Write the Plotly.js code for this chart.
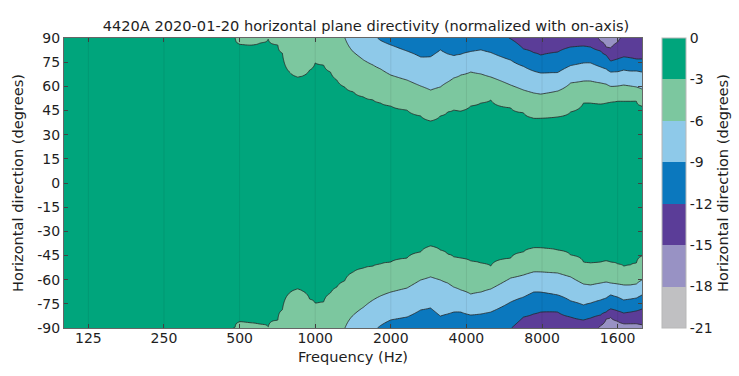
<!DOCTYPE html>
<html><head><meta charset="utf-8">
<script src="https://cdn.plot.ly/plotly-3.0.1.min.js"></script>
<style>html,body{margin:0;padding:0;background:#fff}#chart{width:739px;height:376px}</style>
</head><body><div id="chart"></div>
<script>
// Frequency nodes (Hz) at which the contour boundaries were read
const freqHz = [100, 350, 450, 480, 500, 550, 600, 650, 710, 740, 790, 850, 890, 950, 1000, 1080, 1150, 1220, 1310, 1420, 1560, 1700, 1820, 2000, 2320, 2630, 2880, 3150, 3370, 3560, 3800, 4160, 4570, 5000, 6000, 6750, 7400, 7900, 9240, 10400, 11700, 12500, 13700, 14400, 15000, 16000, 16900, 18000, 19000, 20000];

// Angle (degrees) where each level is crossed on the positive side (null = beyond +90)
const top3  = [null, null, null, 90.5, 86.3, 85.7, 86.9, 89.4, 85.7, 80.7, 68.9, 65.8, 66.4, 70.1, 74.5, 73.2, 68.9, 63.9, 59.6, 56.5, 53.4, 51.5, 49.7, 47.8, 45.3, 41.6, 38.5, 41.6, 44.1, 45.3, 44.7, 47.8, 49.7, 51.5, 46.6, 43.5, 40.3, 40.3, 41.0, 44.1, 49.7, 49.7, 49.0, 49.7, 50.3, 50.9, 50.9, 50.9, 50.9, 47.8];
const top6  = [null, null, null, null, null, null, null, null, null, null, null, null, null, null, null, null, null, null, 90.5, 81.3, 76.3, 73.2, 70.8, 67.0, 63.9, 60.2, 57.7, 59.6, 62.7, 65.2, 67.0, 68.9, 67.7, 65.8, 60.8, 57.7, 55.9, 55.2, 57.1, 62.1, 63.3, 63.3, 62.1, 61.4, 60.0, 60.2, 60.8, 60.2, 59.6, 58.3];
const top9  = [null, null, null, null, null, null, null, null, null, null, null, null, null, null, null, null, null, null, null, null, null, 93.0, 88.5, 85.7, 81.9, 78.2, 78.4, 82.6, 80.1, 79.1, 79.9, 81.6, 82.6, 81.0, 76.3, 72.4, 69.5, 68.3, 68.6, 72.9, 74.5, 74.5, 72.0, 70.8, 68.9, 69.1, 70.1, 69.5, 69.5, 68.9];
const top12 = [null, null, null, null, null, null, null, null, null, null, null, null, null, null, null, null, null, null, null, null, null, null, null, null, null, null, null, null, null, null, null, null, null, 95.0, 89.5, 83.2, 81.0, 79.4, 81.3, 84.4, 85.0, 84.4, 81.9, 79.4, 75.7, 77.0, 78.2, 77.6, 77.0, 77.0];
const top15 = [null, null, null, null, null, null, null, null, null, null, null, null, null, null, null, null, null, null, null, null, null, null, null, null, null, null, null, null, null, null, null, null, null, null, null, null, null, null, null, null, null, 93.0, 88.0, 84.3, 83.8, 87.5, 93.0, null, null, null];

// Angle (degrees) where each level is crossed on the negative side (null = beyond -90)
const bottom3  = [null, null, null, -89.5, -86.3, -86.9, -87.5, -89.4, -85.0, -78.8, -68.3, -65.8, -67.0, -72.0, -74.5, -73.9, -68.3, -64.6, -60.8, -55.2, -52.8, -51.5, -50.3, -49.0, -46.6, -42.8, -39.1, -41.6, -44.1, -45.9, -46.6, -48.4, -49.7, -51.5, -46.6, -42.8, -40.3, -40.3, -41.6, -44.7, -49.0, -49.7, -49.0, -48.4, -49.0, -50.3, -51.5, -50.9, -49.7, -45.3];
const bottom6  = [null, null, null, null, null, null, null, null, null, null, null, null, null, null, null, null, null, null, -90.5, -81.9, -77.0, -72.6, -70.1, -67.7, -65.2, -60.2, -58.3, -60.2, -62.1, -64.6, -66.4, -68.9, -67.7, -65.8, -59.0, -57.1, -55.2, -55.2, -55.9, -58.3, -62.7, -63.3, -62.1, -61.5, -62.1, -62.7, -63.3, -63.3, -62.7, -60.2];
const bottom9  = [null, null, null, null, null, null, null, null, null, null, null, null, null, null, null, null, null, null, null, null, null, -93.0, -88.5, -85.0, -83.2, -78.8, -77.6, -82.6, -81.3, -80.1, -80.1, -81.9, -81.3, -80.1, -73.9, -70.8, -67.7, -67.7, -69.5, -73.2, -75.7, -74.5, -72.6, -71.4, -69.5, -70.8, -72.6, -72.0, -71.4, -69.5];
const bottom12 = [null, null, null, null, null, null, null, null, null, null, null, null, null, null, null, null, null, null, null, null, null, null, null, null, null, null, null, null, null, null, null, null, null, -95.0, -90.5, -83.2, -81.3, -80.1, -80.1, -83.2, -85.0, -83.8, -81.9, -80.1, -78.2, -79.4, -80.7, -80.1, -79.4, -78.2];
const bottom15 = [null, null, null, null, null, null, null, null, null, null, null, null, null, null, null, null, null, null, null, null, null, null, null, null, null, null, null, null, null, null, null, null, null, null, null, null, null, null, null, null, null, -93.0, -88.5, -84.5, -83.5, -85.8, -87.3, -87.3, -87.3, -88.0];

const levelDb = [-3, -6, -9, -12, -15];
const angleTicks = [90, 75, 60, 45, 30, 15, 0, -15, -30, -45, -60, -75, -90];
const freqTickVals = [125, 250, 500, 1000, 2000, 4000, 8000, 16000];
const freqTickText = ["125", "250", "500", "1000", "2000", "4000", "8000", "1600"];
const colorTicks = [0, -3, -6, -9, -12, -15, -18, -21];
const bandColors = ["#c0c0c2", "#9892c4", "#5b3d98", "#0b78be", "#8ec9e9", "#7cc79f", "#00a57c"]; // -21..-18 ... -3..0

const topBounds = [top3, top6, top9, top12, top15];
const bottomBounds = [bottom3, bottom6, bottom9, bottom12, bottom15];

function resolve(bounds, i) {
  const out = []; let prev = 0;
  for (const arr of bounds) {
    let v = arr[i];
    v = (v === null) ? Math.max(prev + 15, 100) : Math.abs(v);
    out.push(v); prev = v;
  }
  out.push(prev + 15); // -18 level, never reached inside the chart
  return out;
}
function dbAt(a, b) {
  const A = [0].concat(b), Z = [-0.2].concat(levelDb, [-18]);
  for (let k = 0; k < A.length - 1; k++) {
    if (a <= A[k + 1]) {
      const t = (a - A[k]) / (A[k + 1] - A[k]);
      return Z[k] + t * (Z[k + 1] - Z[k]);
    }
  }
  return -18;
}

const angles = [];
for (let a = -90; a <= 90.001; a += 0.5) angles.push(Math.round(a * 10) / 10);
const z = angles.map(a => freqHz.map((f, i) => {
  const b = a >= 0 ? resolve(topBounds, i) : resolve(bottomBounds, i);
  return dbAt(Math.abs(a), b);
}));

// contour fill colours (Plotly maps band centres with start -21, size 3, 8 levels)
const nLev = colorTicks.length;
const sOf = l => ((l + 21) / 3 + 0.5) / nLev;
const csContour = [];
for (let k = 0; k < bandColors.length; k++) {
  const lo = k === 0 ? 0 : sOf(-21 + 3 * k);
  const hi = k === bandColors.length - 1 ? 1 : sOf(-21 + 3 * (k + 1));
  csContour.push([lo, bandColors[k]], [hi, bandColors[k]]);
}
// stepped scale over exactly -21..0 for the colour bar
const csBar = [];
bandColors.forEach((c, k) => { csBar.push([k / bandColors.length, c], [(k + 1) / bandColors.length, c]); });

const font = {family: "DejaVu Sans, Verdana, sans-serif", size: 14, color: "#1e1e1e"};
const titleFont = {family: "DejaVu Sans, Verdana, sans-serif", size: 14.6, color: "#1e1e1e"};

const barTrace = {
  type: "heatmap", x: freqHz, y: angles, z: z,
  zmin: -21, zmax: 0, zauto: false, colorscale: csBar, showscale: true,
  hoverinfo: "skip",
  colorbar: {
    x: (662 - 64) / 578, xanchor: "left", xpad: 0, ypad: 0,
    y: 0.5, yanchor: "middle", len: 1, lenmode: "fraction",
    thickness: 24, thicknessmode: "pixels",
    tickmode: "array", tickvals: colorTicks, ticktext: colorTicks.map(String),
    ticks: "", ticklabelpad: 4, tickfont: font,
    outlinewidth: 1, outlinecolor: "#b8b8b8"
  }
};

const contourTrace = {
  type: "contour",
  x: freqHz, y: angles, z: z,
  autocontour: false,
  contours: {start: -21, end: 0, size: 3, coloring: "fill"},
  colorscale: csContour, showscale: false,
  line: {color: "#262626", width: 0.8, smoothing: 0.8},
  hoverinfo: "skip"
};

const gridShapes = freqTickVals.map(v => ({
  type: "line", xref: "x", yref: "paper", x0: v, x1: v, y0: 0, y1: 1,
  line: {color: "rgba(0,0,0,0.08)", width: 1}, layer: "above"
}));

const layout = {
  width: 739, height: 376,
  margin: {l: 64, r: 97, t: 38, b: 48},
  paper_bgcolor: "#fff", plot_bgcolor: "#fff",
  font: font,
  title: {text: "4420A 2020-01-20 horizontal plane directivity (normalized with on-axis)",
          x: 366 / 739, xref: "container", xanchor: "center", y: 1 - 26 / 376, yref: "container", yanchor: "middle", font: titleFont},
  xaxis: {
    type: "log", range: [2, Math.log10(20000)], automargin: false,
    tickvals: freqTickVals, ticktext: freqTickText,
    ticks: "inside", ticklen: 4, tickcolor: "#444", mirror: "ticks",
    ticklabelstandoff: -3,
    showline: true, linecolor: "#666", linewidth: 1,
    showgrid: false, layer: "above traces", zeroline: false, tickfont: font,
    title: {text: "Frequency (Hz)", font: titleFont, standoff: 6}
  },
  yaxis: {
    range: [-90, 90], tickvals: angleTicks, ticktext: angleTicks.map(String), automargin: false,
    ticks: "inside", ticklen: 4, tickcolor: "#444", mirror: "ticks",
    showline: true, linecolor: "#666", linewidth: 1,
    showgrid: false, layer: "above traces", zeroline: false, tickfont: font,
    title: {text: "Horizontal direction (degrees)", font: titleFont, standoff: 10}
  },
  shapes: gridShapes,
  annotations: [{
    text: "Horizontal direction (degrees)", xref: "paper", yref: "paper",
    x: (722 - 64) / 578, y: 0.5, xanchor: "center", yanchor: "middle",
    textangle: -90, showarrow: false, font: titleFont
  }],
  showlegend: false
};

Plotly.newPlot("chart", [barTrace, contourTrace], layout, {displayModeBar: false, staticPlot: true});
</script>
</body></html>
